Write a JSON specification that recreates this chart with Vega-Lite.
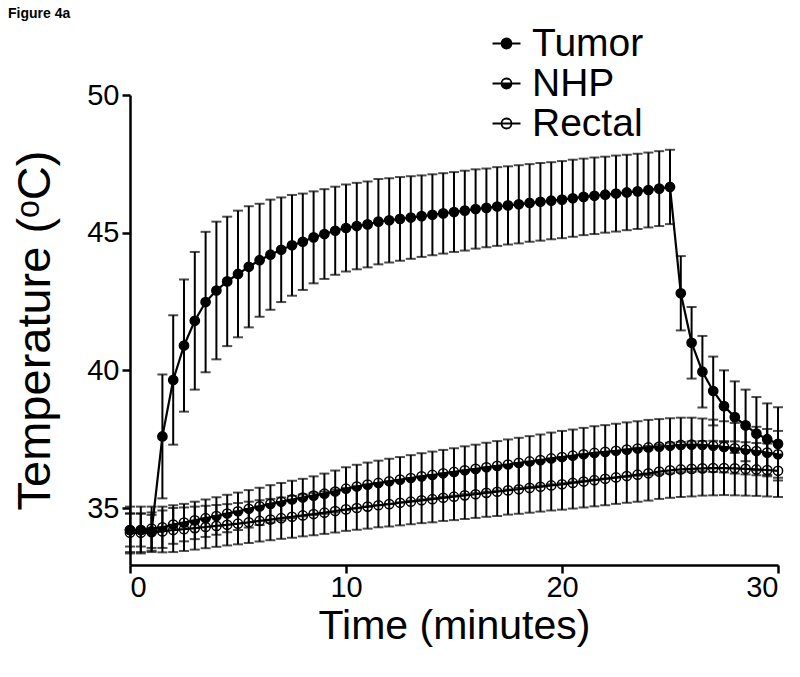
{
  "$schema": "https://vega.github.io/schema/vega-lite/v6.json",
  "width": 648,
  "height": 470,
  "autosize": {"type": "none"},
  "padding": {"left": 130, "top": 95, "right": 22, "bottom": 112},
  "background": "white",
  "title": {"text": "Figure 4a", "anchor": "start", "frame": "group", "fontSize": 14, "fontWeight": "bold", "font": "Liberation Sans", "color": "black", "dx": -122, "offset": -8, "baseline": "alphabetic"},
  "data": {"values": [
    {"series":"Rectal","time":0,"mean":34.1,"sd":0.7},{"series":"Rectal","time":0.5,"mean":34.1,"sd":0.7},{"series":"Rectal","time":1,"mean":34.12,"sd":0.72},{"series":"Rectal","time":1.5,"mean":34.15,"sd":0.76},{"series":"Rectal","time":2,"mean":34.2,"sd":0.8},{"series":"Rectal","time":2.5,"mean":34.23,"sd":0.79},{"series":"Rectal","time":3,"mean":34.27,"sd":0.78},{"series":"Rectal","time":3.5,"mean":34.31,"sd":0.77},{"series":"Rectal","time":4,"mean":34.35,"sd":0.76},{"series":"Rectal","time":4.5,"mean":34.39,"sd":0.75},{"series":"Rectal","time":5,"mean":34.43,"sd":0.75},{"series":"Rectal","time":5.5,"mean":34.48,"sd":0.75},{"series":"Rectal","time":6,"mean":34.53,"sd":0.75},{"series":"Rectal","time":6.5,"mean":34.58,"sd":0.75},{"series":"Rectal","time":7,"mean":34.63,"sd":0.75},{"series":"Rectal","time":7.5,"mean":34.68,"sd":0.76},{"series":"Rectal","time":8,"mean":34.73,"sd":0.76},{"series":"Rectal","time":8.5,"mean":34.78,"sd":0.77},{"series":"Rectal","time":9,"mean":34.83,"sd":0.77},{"series":"Rectal","time":9.5,"mean":34.89,"sd":0.78},{"series":"Rectal","time":10,"mean":34.95,"sd":0.78},{"series":"Rectal","time":10.5,"mean":35.0,"sd":0.79},{"series":"Rectal","time":11,"mean":35.05,"sd":0.8},{"series":"Rectal","time":11.5,"mean":35.1,"sd":0.8},{"series":"Rectal","time":12,"mean":35.14,"sd":0.81},{"series":"Rectal","time":12.5,"mean":35.19,"sd":0.82},{"series":"Rectal","time":13,"mean":35.23,"sd":0.82},{"series":"Rectal","time":13.5,"mean":35.28,"sd":0.83},{"series":"Rectal","time":14,"mean":35.32,"sd":0.84},{"series":"Rectal","time":14.5,"mean":35.37,"sd":0.84},{"series":"Rectal","time":15,"mean":35.41,"sd":0.85},{"series":"Rectal","time":15.5,"mean":35.46,"sd":0.86},{"series":"Rectal","time":16,"mean":35.5,"sd":0.86},{"series":"Rectal","time":16.5,"mean":35.55,"sd":0.87},{"series":"Rectal","time":17,"mean":35.59,"sd":0.88},{"series":"Rectal","time":17.5,"mean":35.64,"sd":0.88},{"series":"Rectal","time":18,"mean":35.68,"sd":0.89},{"series":"Rectal","time":18.5,"mean":35.73,"sd":0.9},{"series":"Rectal","time":19,"mean":35.77,"sd":0.9},{"series":"Rectal","time":19.5,"mean":35.82,"sd":0.91},{"series":"Rectal","time":20,"mean":35.86,"sd":0.92},{"series":"Rectal","time":20.5,"mean":35.91,"sd":0.93},{"series":"Rectal","time":21,"mean":35.96,"sd":0.94},{"series":"Rectal","time":21.5,"mean":36.01,"sd":0.95},{"series":"Rectal","time":22,"mean":36.06,"sd":0.96},{"series":"Rectal","time":22.5,"mean":36.11,"sd":0.96},{"series":"Rectal","time":23,"mean":36.16,"sd":0.97},{"series":"Rectal","time":23.5,"mean":36.21,"sd":0.98},{"series":"Rectal","time":24,"mean":36.26,"sd":0.99},{"series":"Rectal","time":24.5,"mean":36.32,"sd":0.99},{"series":"Rectal","time":25,"mean":36.37,"sd":1.0},{"series":"Rectal","time":25.5,"mean":36.4,"sd":1.0},{"series":"Rectal","time":26,"mean":36.42,"sd":1.0},{"series":"Rectal","time":26.5,"mean":36.44,"sd":0.99},{"series":"Rectal","time":27,"mean":36.45,"sd":0.99},{"series":"Rectal","time":27.5,"mean":36.45,"sd":0.98},{"series":"Rectal","time":28,"mean":36.44,"sd":0.98},{"series":"Rectal","time":28.5,"mean":36.42,"sd":0.97},{"series":"Rectal","time":29,"mean":36.4,"sd":0.96},{"series":"Rectal","time":29.5,"mean":36.38,"sd":0.96},{"series":"Rectal","time":30,"mean":36.35,"sd":0.95},
    {"series":"NHP","time":0,"mean":34.2,"sd":0.85},{"series":"NHP","time":0.5,"mean":34.2,"sd":0.85},{"series":"NHP","time":1,"mean":34.25,"sd":0.8},{"series":"NHP","time":1.5,"mean":34.3,"sd":0.75},{"series":"NHP","time":2,"mean":34.4,"sd":0.7},{"series":"NHP","time":2.5,"mean":34.47,"sd":0.68},{"series":"NHP","time":3,"mean":34.55,"sd":0.68},{"series":"NHP","time":3.5,"mean":34.63,"sd":0.68},{"series":"NHP","time":4,"mean":34.71,"sd":0.68},{"series":"NHP","time":4.5,"mean":34.8,"sd":0.68},{"series":"NHP","time":5,"mean":34.88,"sd":0.68},{"series":"NHP","time":5.5,"mean":34.97,"sd":0.68},{"series":"NHP","time":6,"mean":35.06,"sd":0.68},{"series":"NHP","time":6.5,"mean":35.15,"sd":0.68},{"series":"NHP","time":7,"mean":35.23,"sd":0.68},{"series":"NHP","time":7.5,"mean":35.31,"sd":0.68},{"series":"NHP","time":8,"mean":35.38,"sd":0.68},{"series":"NHP","time":8.5,"mean":35.45,"sd":0.7},{"series":"NHP","time":9,"mean":35.52,"sd":0.73},{"series":"NHP","time":9.5,"mean":35.6,"sd":0.76},{"series":"NHP","time":10,"mean":35.7,"sd":0.78},{"series":"NHP","time":10.5,"mean":35.78,"sd":0.79},{"series":"NHP","time":11,"mean":35.85,"sd":0.8},{"series":"NHP","time":11.5,"mean":35.91,"sd":0.81},{"series":"NHP","time":12,"mean":35.97,"sd":0.82},{"series":"NHP","time":12.5,"mean":36.03,"sd":0.82},{"series":"NHP","time":13,"mean":36.09,"sd":0.83},{"series":"NHP","time":13.5,"mean":36.15,"sd":0.84},{"series":"NHP","time":14,"mean":36.2,"sd":0.85},{"series":"NHP","time":14.5,"mean":36.26,"sd":0.85},{"series":"NHP","time":15,"mean":36.31,"sd":0.86},{"series":"NHP","time":15.5,"mean":36.37,"sd":0.87},{"series":"NHP","time":16,"mean":36.42,"sd":0.88},{"series":"NHP","time":16.5,"mean":36.48,"sd":0.89},{"series":"NHP","time":17,"mean":36.53,"sd":0.9},{"series":"NHP","time":17.5,"mean":36.58,"sd":0.91},{"series":"NHP","time":18,"mean":36.64,"sd":0.91},{"series":"NHP","time":18.5,"mean":36.69,"sd":0.92},{"series":"NHP","time":19,"mean":36.74,"sd":0.93},{"series":"NHP","time":19.5,"mean":36.8,"sd":0.94},{"series":"NHP","time":20,"mean":36.85,"sd":0.95},{"series":"NHP","time":20.5,"mean":36.9,"sd":0.95},{"series":"NHP","time":21,"mean":36.95,"sd":0.96},{"series":"NHP","time":21.5,"mean":37.0,"sd":0.97},{"series":"NHP","time":22,"mean":37.04,"sd":0.97},{"series":"NHP","time":22.5,"mean":37.08,"sd":0.98},{"series":"NHP","time":23,"mean":37.12,"sd":0.99},{"series":"NHP","time":23.5,"mean":37.16,"sd":0.99},{"series":"NHP","time":24,"mean":37.2,"sd":1.0},{"series":"NHP","time":24.5,"mean":37.23,"sd":1.0},{"series":"NHP","time":25,"mean":37.26,"sd":1.0},{"series":"NHP","time":25.5,"mean":37.29,"sd":0.99},{"series":"NHP","time":26,"mean":37.3,"sd":0.98},{"series":"NHP","time":26.5,"mean":37.29,"sd":0.96},{"series":"NHP","time":27,"mean":37.26,"sd":0.95},{"series":"NHP","time":27.5,"mean":37.22,"sd":0.93},{"series":"NHP","time":28,"mean":37.17,"sd":0.92},{"series":"NHP","time":28.5,"mean":37.12,"sd":0.9},{"series":"NHP","time":29,"mean":37.07,"sd":0.88},{"series":"NHP","time":29.5,"mean":37.01,"sd":0.86},{"series":"NHP","time":30,"mean":36.95,"sd":0.85},
    {"series":"Tumor","time":0,"mean":34.2,"sd":0.6},{"series":"Tumor","time":0.5,"mean":34.2,"sd":0.6},{"series":"Tumor","time":1,"mean":34.15,"sd":0.6},{"series":"Tumor","time":1.5,"mean":37.6,"sd":2.25},{"series":"Tumor","time":2,"mean":39.65,"sd":2.35},{"series":"Tumor","time":2.5,"mean":40.9,"sd":2.4},{"series":"Tumor","time":3,"mean":41.8,"sd":2.5},{"series":"Tumor","time":3.5,"mean":42.48,"sd":2.55},{"series":"Tumor","time":4,"mean":42.9,"sd":2.5},{"series":"Tumor","time":4.5,"mean":43.23,"sd":2.35},{"series":"Tumor","time":5,"mean":43.5,"sd":2.3},{"series":"Tumor","time":5.5,"mean":43.76,"sd":2.2},{"series":"Tumor","time":6,"mean":44.0,"sd":2.05},{"series":"Tumor","time":6.5,"mean":44.2,"sd":2.0},{"series":"Tumor","time":7,"mean":44.38,"sd":1.9},{"series":"Tumor","time":7.5,"mean":44.54,"sd":1.83},{"series":"Tumor","time":8,"mean":44.67,"sd":1.75},{"series":"Tumor","time":8.5,"mean":44.83,"sd":1.67},{"series":"Tumor","time":9,"mean":44.95,"sd":1.63},{"series":"Tumor","time":9.5,"mean":45.07,"sd":1.6},{"series":"Tumor","time":10,"mean":45.17,"sd":1.58},{"series":"Tumor","time":10.5,"mean":45.24,"sd":1.57},{"series":"Tumor","time":11,"mean":45.3,"sd":1.56},{"series":"Tumor","time":11.5,"mean":45.4,"sd":1.55},{"series":"Tumor","time":12,"mean":45.45,"sd":1.53},{"series":"Tumor","time":12.5,"mean":45.5,"sd":1.52},{"series":"Tumor","time":13,"mean":45.55,"sd":1.5},{"series":"Tumor","time":13.5,"mean":45.6,"sd":1.48},{"series":"Tumor","time":14,"mean":45.65,"sd":1.47},{"series":"Tumor","time":14.5,"mean":45.7,"sd":1.46},{"series":"Tumor","time":15,"mean":45.75,"sd":1.45},{"series":"Tumor","time":15.5,"mean":45.8,"sd":1.45},{"series":"Tumor","time":16,"mean":45.86,"sd":1.44},{"series":"Tumor","time":16.5,"mean":45.9,"sd":1.43},{"series":"Tumor","time":17,"mean":45.95,"sd":1.43},{"series":"Tumor","time":17.5,"mean":45.99,"sd":1.42},{"series":"Tumor","time":18,"mean":46.03,"sd":1.42},{"series":"Tumor","time":18.5,"mean":46.08,"sd":1.41},{"series":"Tumor","time":19,"mean":46.12,"sd":1.41},{"series":"Tumor","time":19.5,"mean":46.16,"sd":1.4},{"series":"Tumor","time":20,"mean":46.2,"sd":1.4},{"series":"Tumor","time":20.5,"mean":46.25,"sd":1.4},{"series":"Tumor","time":21,"mean":46.3,"sd":1.39},{"series":"Tumor","time":21.5,"mean":46.34,"sd":1.39},{"series":"Tumor","time":22,"mean":46.38,"sd":1.38},{"series":"Tumor","time":22.5,"mean":46.42,"sd":1.38},{"series":"Tumor","time":23,"mean":46.46,"sd":1.37},{"series":"Tumor","time":23.5,"mean":46.5,"sd":1.37},{"series":"Tumor","time":24,"mean":46.55,"sd":1.36},{"series":"Tumor","time":24.5,"mean":46.6,"sd":1.36},{"series":"Tumor","time":25,"mean":46.66,"sd":1.35},{"series":"Tumor","time":25.5,"mean":42.8,"sd":1.35},{"series":"Tumor","time":26,"mean":41.0,"sd":1.3},{"series":"Tumor","time":26.5,"mean":39.95,"sd":1.3},{"series":"Tumor","time":27,"mean":39.25,"sd":1.25},{"series":"Tumor","time":27.5,"mean":38.7,"sd":1.3},{"series":"Tumor","time":28,"mean":38.3,"sd":1.3},{"series":"Tumor","time":28.5,"mean":38.0,"sd":1.3},{"series":"Tumor","time":29,"mean":37.7,"sd":1.33},{"series":"Tumor","time":29.5,"mean":37.5,"sd":1.3},{"series":"Tumor","time":30,"mean":37.33,"sd":1.33}
  ]},
  "encoding": {
    "x": {"field": "time", "type": "quantitative", "scale": {"domain": [0, 30], "nice": false, "zero": false},
      "axis": {"title": "Time (minutes)", "values": [0, 10, 20, 30], "labelPadding": 0, "titlePadding": 4}},
    "y": {"field": "mean", "type": "quantitative", "scale": {"domain": [32.93, 50], "nice": false, "zero": false},
      "axis": {"title": "Temperature (ᵒC)", "titleFontSize": 47, "values": [35, 40, 45, 50], "labelPadding": 3, "titlePadding": 27}}
  },
  "layer": [
    {
      "mark": {"type": "errorbar", "ticks": {"size": 10, "thickness": 2, "color": "black"}, "rule": {"strokeWidth": 2, "color": "black"}, "color": "black"},
      "encoding": {"yError": {"field": "sd"}}
    },
    {
      "mark": {"type": "line", "color": "black", "strokeWidth": 2.2},
      "encoding": {"detail": {"field": "series"}}
    },
    {
      "transform": [{"filter": "datum.series === 'NHP'"}],
      "mark": {"type": "point", "filled": true, "fill": "black", "stroke": "black", "size": 85, "strokeWidth": 1.5, "opacity": 1,
        "shape": "M -1 0 A 1 1 0 0 0 1 0 Z M -1 0 A 1 1 0 0 1 1 0 A 1 1 0 0 0 -1 0"},
      "encoding": {}
    },
    {
      "transform": [{"filter": "datum.series !== 'NHP'"}],
      "mark": {"type": "point", "filled": false, "shape": "circle", "size": 85, "strokeWidth": 1.5, "opacity": 1},
      "encoding": {
        "stroke": {"field": "series", "type": "nominal",
          "scale": {"domain": ["Tumor", "NHP", "Rectal"], "range": ["black", "black", "black"]},
          "legend": {"title": null, "orient": "none", "legendX": 357, "legendY": -71, "padding": 0, "labelFontSize": 39, "labelFont": "Liberation Sans", "labelColor": "black", "symbolSize": 100, "symbolStrokeWidth": 1.8, "labelOffset": 6, "rowPadding": -1,
            "encoding": {"symbols": {"shape": {"value": {"signal": "datum.value === 'NHP' ? 'M -2.8 0 L 2.8 0 M -1 0 A 1 1 0 0 0 1 0 Z M -1 0 A 1 1 0 0 1 1 0 A 1 1 0 0 0 -1 0' : 'M -2.8 0 L 2.8 0 M 1 0 A 1 1 0 1 1 -1 0 A 1 1 0 1 1 1 0 Z'"}}, "strokeWidth": {"value": 1.8}}}}},
        "fill": {"field": "series", "type": "nominal",
          "scale": {"domain": ["Tumor", "NHP", "Rectal"], "range": ["black", "black", "transparent"]},
          "legend": {"title": null, "orient": "none", "legendX": 357, "legendY": -71, "padding": 0, "labelFontSize": 39, "labelFont": "Liberation Sans", "labelColor": "black", "symbolSize": 100, "symbolStrokeWidth": 1.8, "labelOffset": 6, "rowPadding": -1,
            "encoding": {"symbols": {"shape": {"value": {"signal": "datum.value === 'NHP' ? 'M -2.8 0 L 2.8 0 M -1 0 A 1 1 0 0 0 1 0 Z M -1 0 A 1 1 0 0 1 1 0 A 1 1 0 0 0 -1 0' : 'M -2.8 0 L 2.8 0 M 1 0 A 1 1 0 1 1 -1 0 A 1 1 0 1 1 1 0 Z'"}}, "strokeWidth": {"value": 1.8}}}}}
      }
    }
  ],
  "config": {
    "view": {"stroke": null},
    "axis": {"grid": false, "domainColor": "black", "domainWidth": 2.5, "tickColor": "black", "tickWidth": 2.5, "tickSize": 8,
      "labelFont": "Liberation Sans", "labelFontSize": 29, "labelColor": "black",
      "titleFont": "Liberation Sans", "titleFontSize": 41, "titleFontWeight": "normal", "titleColor": "black"}
  }
}
